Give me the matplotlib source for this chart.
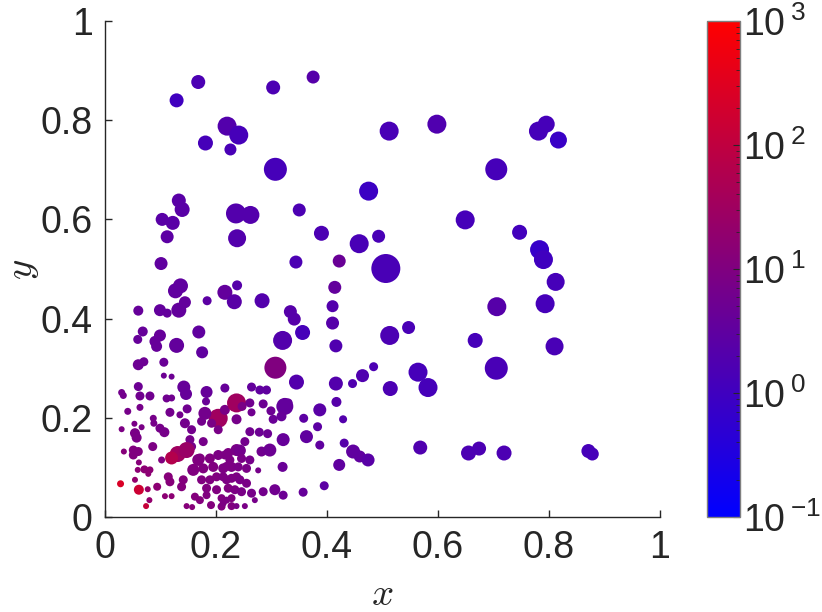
import numpy as np
import matplotlib
matplotlib.use("Agg")
import matplotlib.pyplot as plt
from matplotlib.colors import LinearSegmentedColormap, LogNorm

plt.rcParams['font.family'] = ['Liberation Sans', 'DejaVu Sans']
plt.rcParams['mathtext.fontset'] = 'cm'

# points: x, y, marker diameter (px), log10 of colour value
x_upper = [0.129, 0.168, 0.303, 0.375, 0.220, 0.241, 0.181, 0.226, 0.307, 0.512,
           0.475, 0.133, 0.139, 0.103, 0.122, 0.112, 0.236, 0.262, 0.238, 0.350,
           0.390, 0.458, 0.493, 0.598, 0.781, 0.795, 0.817, 0.705, 0.649, 0.747,
           0.783, 0.790, 0.812, 0.422, 0.506, 0.344, 0.101]
y_upper = [0.840, 0.877, 0.866, 0.887, 0.788, 0.770, 0.754, 0.741, 0.701, 0.778,
           0.657, 0.638, 0.620, 0.600, 0.593, 0.565, 0.612, 0.609, 0.562, 0.619,
           0.572, 0.551, 0.566, 0.792, 0.778, 0.792, 0.760, 0.701, 0.599, 0.574,
           0.539, 0.519, 0.474, 0.516, 0.501, 0.514, 0.511]
d_upper = [14, 14, 14, 13, 19, 19, 15, 12, 23, 19,
           19, 14, 15, 13, 14, 13, 20, 18, 18, 13,
           15, 19, 13, 19, 19, 17, 17, 22, 19, 15,
           19, 19, 18, 13, 29, 13, 13]
c_upper = [0.0, 0.2, 0.2, 0.35, 0.3, 0.1, 0.1, 0.15, 0.1, 0.15,
           -0.05, 0.4, 0.4, 0.4, 0.4, 0.45, 0.3, 0.3, 0.3, 0.2,
           0.2, 0.15, 0.15, 0.25, 0.1, 0.1, -0.1, 0.1, 0.1, 0.05,
           -0.15, 0.0, 0.1, 0.65, 0.15, 0.2, 0.5]

x_right = [0.706, 0.793, 0.414, 0.410, 0.410, 0.513, 0.547, 0.667, 0.810, 0.416,
           0.564, 0.582, 0.705, 0.484, 0.464, 0.446, 0.514, 0.416, 0.417, 0.429,
           0.431, 0.447, 0.459, 0.474, 0.422, 0.568, 0.655, 0.674, 0.719, 0.871,
           0.878, 0.395]
y_right = [0.424, 0.430, 0.463, 0.425, 0.391, 0.366, 0.382, 0.356, 0.344, 0.345,
           0.292, 0.261, 0.300, 0.303, 0.285, 0.269, 0.259, 0.269, 0.232, 0.197,
           0.149, 0.132, 0.122, 0.115, 0.105, 0.140, 0.129, 0.138, 0.129, 0.133,
           0.127, 0.063]
d_right = [19, 19, 13, 12, 13, 19, 13, 15, 18, 13,
           19, 19, 23, 9, 13, 9, 15, 14, 10, 8,
           9, 14, 12, 13, 12, 14, 15, 14, 15, 14,
           13, 9]
c_right = [0.35, 0.1, 0.55, 0.3, 0.35, 0.2, 0.15, 0.1, 0.15, 0.25,
           0.1, 0.1, 0.15, 0.2, 0.25, 0.25, 0.2, 0.3, 0.35, 0.3,
           0.35, 0.5, 0.5, 0.4, 0.5, 0.25, 0.2, 0.2, 0.2, 0.1,
           0.1, 0.45]

x_mid = [0.216, 0.238, 0.233, 0.283, 0.334, 0.341, 0.356, 0.320, 0.307, 0.345,
         0.136, 0.127, 0.184, 0.060, 0.099, 0.112, 0.133, 0.144, 0.068, 0.059,
         0.099, 0.090, 0.093, 0.129, 0.169, 0.175, 0.060, 0.070, 0.106, 0.106,
         0.120]
y_mid = [0.453, 0.467, 0.434, 0.436, 0.414, 0.399, 0.372, 0.356, 0.301, 0.272,
         0.466, 0.456, 0.436, 0.416, 0.417, 0.411, 0.417, 0.433, 0.374, 0.358,
         0.366, 0.354, 0.344, 0.346, 0.373, 0.332, 0.307, 0.313, 0.312, 0.285,
         0.283]
d_mid = [15, 10, 15, 15, 13, 13, 15, 19, 22, 15,
         15, 15, 9, 10, 12, 9, 15, 12, 10, 9,
         12, 11, 11, 15, 13, 12, 11, 9, 9, 6,
         6]
c_mid = [0.55, 0.35, 0.4, 0.3, 0.35, 0.35, 0.1, 0.3, 1.0, 0.3,
         0.5, 0.5, 0.45, 0.6, 0.55, 0.55, 0.55, 0.55, 0.6, 0.6,
         0.6, 0.6, 0.6, 0.55, 0.5, 0.5, 0.7, 0.7, 0.65, 0.7,
         0.7]

x_left = [0.060, 0.030, 0.033, 0.063, 0.081, 0.111, 0.120, 0.142, 0.146, 0.183,
          0.182, 0.041, 0.063, 0.117, 0.135, 0.148, 0.087, 0.088, 0.053, 0.030,
          0.054, 0.066, 0.057, 0.099, 0.107, 0.144, 0.156, 0.174, 0.177, 0.153,
          0.156, 0.204, 0.216, 0.192, 0.204, 0.180, 0.086, 0.034, 0.051, 0.060,
          0.051, 0.061, 0.102, 0.131, 0.147, 0.120, 0.171, 0.189, 0.204, 0.222,
          0.237, 0.159, 0.177, 0.195, 0.213, 0.228, 0.168, 0.059, 0.071, 0.081,
          0.078, 0.054, 0.028, 0.061, 0.077, 0.094, 0.114, 0.117, 0.141, 0.138,
          0.174, 0.189, 0.201, 0.219, 0.237, 0.183, 0.201, 0.222, 0.234, 0.080,
          0.074, 0.108, 0.120, 0.162, 0.171, 0.183, 0.210, 0.228, 0.147, 0.157,
          0.191, 0.210, 0.228]
y_left = [0.263, 0.251, 0.245, 0.244, 0.244, 0.239, 0.240, 0.262, 0.248, 0.252,
          0.233, 0.213, 0.221, 0.211, 0.206, 0.218, 0.199, 0.189, 0.188, 0.177,
          0.169, 0.181, 0.160, 0.179, 0.171, 0.189, 0.176, 0.193, 0.152, 0.156,
          0.142, 0.199, 0.216, 0.189, 0.176, 0.209, 0.142, 0.132, 0.135, 0.132,
          0.125, 0.110, 0.115, 0.127, 0.135, 0.119, 0.118, 0.118, 0.125, 0.129,
          0.135, 0.095, 0.098, 0.101, 0.098, 0.101, 0.115, 0.095, 0.096, 0.095,
          0.087, 0.075, 0.067, 0.055, 0.056, 0.061, 0.081, 0.071, 0.075, 0.061,
          0.075, 0.075, 0.081, 0.075, 0.081, 0.058, 0.055, 0.058, 0.055, 0.034,
          0.022, 0.042, 0.042, 0.041, 0.034, 0.044, 0.038, 0.038, 0.022, 0.020,
          0.024, 0.021, 0.022]
d_left = [9, 7, 7, 9, 9, 8, 7, 13, 12, 12,
          8, 7, 7, 9, 7, 9, 7, 7, 6, 6,
          10, 6, 10, 9, 10, 10, 9, 9, 9, 9,
          9, 19, 10, 9, 9, 13, 9, 6, 9, 9,
          9, 6, 7, 16, 16, 13, 10, 10, 10, 10,
          12, 12, 10, 10, 10, 10, 12, 6, 8, 7,
          6, 6, 7, 10, 6, 8, 9, 9, 9, 9,
          9, 9, 9, 9, 9, 9, 9, 9, 9, 6,
          6, 6, 6, 8, 8, 8, 8, 8, 6, 6,
          8, 8, 8]
c_left = [0.7, 0.8, 0.8, 0.75, 0.75, 0.75, 0.75, 0.6, 0.6, 0.6,
          0.65, 0.85, 0.85, 0.8, 0.8, 0.75, 0.85, 0.85, 0.9, 0.95,
          0.9, 0.9, 0.9, 0.85, 0.85, 0.8, 0.8, 0.8, 0.85, 0.85,
          0.85, 1.5, 0.9, 0.9, 0.9, 0.8, 0.95, 1.1, 1.0, 1.0,
          1.0, 1.1, 1.0, 1.5, 1.4, 1.8, 1.0, 1.0, 0.95, 0.95,
          0.9, 1.0, 1.0, 1.0, 0.95, 0.95, 1.0, 1.2, 1.2, 1.2,
          1.2, 1.3, 2.4, 2.2, 1.4, 1.2, 1.1, 1.1, 1.05, 1.05,
          1.0, 1.0, 1.0, 0.95, 0.95, 1.0, 1.0, 1.0, 0.95, 1.3,
          2.1, 1.2, 1.2, 1.05, 1.05, 1.0, 1.0, 1.0, 1.1, 1.1,
          1.05, 1.0, 1.0]

x_core = [0.216, 0.264, 0.279, 0.291, 0.237, 0.247, 0.261, 0.264, 0.285, 0.299,
          0.324, 0.330, 0.318, 0.303, 0.237, 0.358, 0.387, 0.383, 0.261, 0.278,
          0.293, 0.321, 0.363, 0.387, 0.252, 0.243, 0.282, 0.297, 0.216, 0.225,
          0.246, 0.261, 0.240, 0.255, 0.276, 0.320, 0.219, 0.243, 0.255, 0.213,
          0.228, 0.246, 0.264, 0.285, 0.306, 0.321, 0.357, 0.270, 0.237, 0.252,
          0.219, 0.213]
y_core = [0.260, 0.262, 0.256, 0.256, 0.230, 0.223, 0.230, 0.211, 0.228, 0.214,
          0.223, 0.230, 0.203, 0.197, 0.197, 0.199, 0.216, 0.182, 0.172, 0.171,
          0.168, 0.156, 0.162, 0.145, 0.152, 0.134, 0.132, 0.135, 0.125, 0.115,
          0.118, 0.115, 0.101, 0.098, 0.094, 0.101, 0.102, 0.075, 0.068, 0.081,
          0.078, 0.051, 0.048, 0.051, 0.055, 0.044, 0.050, 0.034, 0.022, 0.022,
          0.034, 0.028]
d_core = [9, 9, 9, 9, 19, 9, 9, 8, 9, 9,
          17, 9, 10, 9, 10, 9, 13, 9, 9, 9,
          9, 13, 13, 9, 9, 12, 10, 13, 9, 9,
          9, 9, 9, 9, 6, 10, 9, 9, 9, 9,
          9, 9, 9, 9, 11, 9, 9, 6, 6, 6,
          7, 7]
c_core = [0.6, 0.55, 0.5, 0.5, 1.5, 0.9, 0.75, 0.75, 0.7, 0.7,
          0.55, 0.55, 0.6, 0.65, 0.85, 0.45, 0.4, 0.45, 0.75, 0.7,
          0.7, 0.6, 0.5, 0.5, 0.8, 0.8, 0.75, 0.7, 0.95, 0.95,
          0.9, 0.85, 0.9, 0.9, 0.85, 0.65, 0.95, 0.9, 0.9, 0.95,
          0.95, 0.9, 0.85, 0.8, 0.75, 0.7, 0.6, 0.85, 0.9, 0.9,
          0.95, 0.95]

xs = np.array(x_upper + x_right + x_mid + x_left + x_core)
ys = np.array(y_upper + y_right + y_mid + y_left + y_core)
ds = np.array(d_upper + d_right + d_mid + d_left + d_core, dtype=float)
cs = 10.0 ** np.array(c_upper + c_right + c_mid + c_left + c_core)

cb_ticks = [0.1, 1, 10, 100, 1000]
cb_labels = [r'$\mathdefault{10}^{\,\mathdefault{-1}}$', r'$\mathdefault{10}^{\,\mathdefault{0}}$',
             r'$\mathdefault{10}^{\,\mathdefault{1}}$', r'$\mathdefault{10}^{\,\mathdefault{2}}$',
             r'$\mathdefault{10}^{\,\mathdefault{3}}$']

dpi = 100
fig = plt.figure(figsize=(8.22, 6.12), dpi=dpi)
ax = fig.add_axes([105 / 822, 95 / 612, 555 / 822, 496 / 612])
cax = fig.add_axes([707 / 822, 95 / 612, 33 / 822, 496 / 612])

cmap = LinearSegmentedColormap.from_list('bluered', ['#0000ff', '#ff0000'])
norm = LogNorm(vmin=0.1, vmax=1000)
sizes = (ds * 72 / dpi) ** 2

sc = ax.scatter(xs, ys, s=sizes, c=cs, cmap=cmap, norm=norm,
                edgecolors='none')

axcol = '#262626'
ax.set_xlim(0, 1)
ax.set_ylim(0, 1)
ax.set_xticks([0, 0.2, 0.4, 0.6, 0.8, 1])
ax.set_yticks([0, 0.2, 0.4, 0.6, 0.8, 1])
ax.set_xticklabels(['0', '0.2', '0.4', '0.6', '0.8', '1'])
ax.set_yticklabels(['0', '0.2', '0.4', '0.6', '0.8', '1'])
for side in ['top', 'right']:
    ax.spines[side].set_visible(False)
for side in ['left', 'bottom']:
    ax.spines[side].set_color(axcol)
    ax.spines[side].set_linewidth(1.0)
ax.tick_params(direction='in', length=5, width=1, colors=axcol,
               labelsize=27, pad=9)
ax.set_xlabel('$x$', fontsize=28, color=axcol, va='center')
ax.set_ylabel('$y$', fontsize=28, color=axcol, va='center')
ax.xaxis.set_label_coords(0.5, -0.158)
ax.yaxis.set_label_coords(-0.148, 0.5)

cb = fig.colorbar(sc, cax=cax)
cb.outline.set_edgecolor('#7f7f7f')
cb.outline.set_linewidth(1.0)
cb.set_ticks(cb_ticks)
cb.set_ticklabels(cb_labels)
cax.tick_params(which='major', direction='in', length=5, width=0.8,
                colors=axcol, labelsize=27, pad=2)
cax.tick_params(which='minor', direction='in', length=3, width=0.6,
                colors=axcol)

fig.savefig('out.png', dpi=dpi)
